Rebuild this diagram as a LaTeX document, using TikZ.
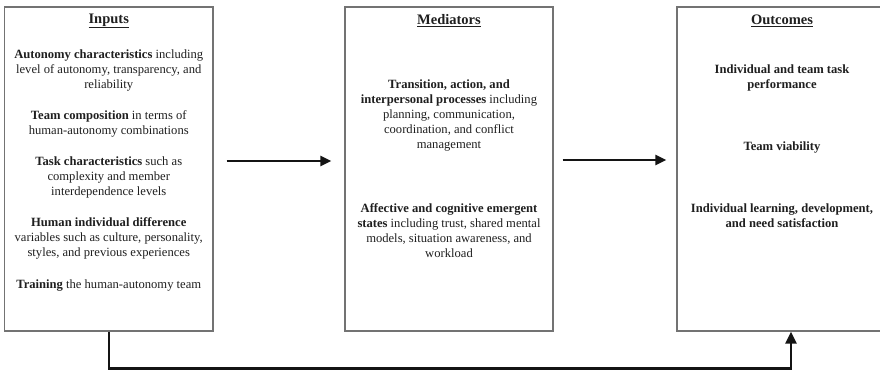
\documentclass[tikz,border=0pt]{standalone}
\usepackage{fontspec}
\setmainfont{Liberation Serif}
\usetikzlibrary{arrows.meta}
\begin{document}
\begin{tikzpicture}[x=1pt,y=-1pt,
  panel/.style={draw=black!55,line width=1.3pt,minimum width=#1,minimum height=324pt,inner sep=0pt},
  ttl/.style={font=\fontsize{14.5}{16}\selectfont\bfseries,text=black!88},
  body/.style={align=center,font=\fontsize{12.6}{15}\selectfont,text=black!88,inner sep=0pt},
  bbody/.style={body,font=\fontsize{12.6}{15}\selectfont\bfseries},
  flow/.style={line width=2.4pt,draw=black!92,-{Triangle[length=11pt,width=10pt]}}]
\clip (0,0) rectangle (880,371);
\fill[white] (0,0) rectangle (880,371);

% three panels
\node[panel=208.5pt] (inputs) at (108.75,169) {};
\node[panel=208pt] (mediators) at (449,169) {};
\node[panel=210pt] (outcomes) at (782,169) {};

% panel titles
\node[ttl] (tin) at (108.75,21) {\underline{Inputs}};
\node[ttl] (tmed) at (449,21) {\underline{Mediators}};
\node[ttl] (tout) at (782,21) {\underline{Outcomes}};

% inputs
\node[body] (in1) at (108.75,70) {\textbf{Autonomy characteristics} including\\level of autonomy, transparency, and\\reliability};
\node[body] (in2) at (108.75,124) {\textbf{Team composition} in terms of\\human-autonomy combinations};
\node[body] (in3) at (108.75,177) {\textbf{Task characteristics} such as\\complexity and member\\interdependence levels};
\node[body] (in4) at (108.75,238.5) {\textbf{Human individual difference}\\variables such as culture, personality,\\styles, and previous experiences};
\node[body] (in5) at (108.75,286) {\textbf{Training} the human-autonomy team};

% mediators
\node[body] (med1) at (449,115) {\textbf{Transition, action, and}\\\textbf{interpersonal processes} including\\planning, communication,\\coordination, and conflict\\management};
\node[body] (med2) at (449,230.5) {\textbf{Affective and cognitive emergent}\\\textbf{states} including trust, shared mental\\models, situation awareness, and\\workload};

% outcomes
\node[bbody] (out1) at (782,77.5) {Individual and team task\\performance};
\node[bbody] (out2) at (782,147) {Team viability};
\node[bbody] (out3) at (782,215.5) {Individual learning, development,\\and need satisfaction};

% connectors
\draw[flow,shorten <=13pt,shorten >=13pt] ([yshift=8pt]inputs.east) -- ([yshift=8pt]mediators.west);
\draw[flow,shorten <=9pt,shorten >=10pt] ([yshift=9pt]mediators.east) -- ([yshift=9pt]outcomes.west);
\draw[flow,-{Triangle[length=12pt,width=11pt]}] (inputs.south) -- ++(0,37) -| ([xshift=9pt]outcomes.south);
\end{tikzpicture}
\end{document}
